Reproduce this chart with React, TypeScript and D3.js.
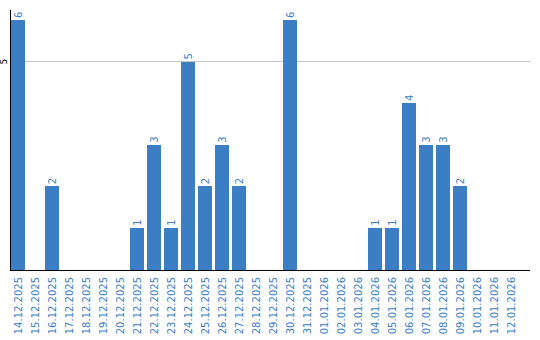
import React from "react";
import * as d3 from "d3";

const categories = [
  "14.12.2025","15.12.2025","16.12.2025","17.12.2025","18.12.2025","19.12.2025","20.12.2025",
  "21.12.2025","22.12.2025","23.12.2025","24.12.2025","25.12.2025","26.12.2025","27.12.2025",
  "28.12.2025","29.12.2025","30.12.2025","31.12.2025","01.01.2026","02.01.2026","03.01.2026",
  "04.01.2026","05.01.2026","06.01.2026","07.01.2026","08.01.2026","09.01.2026","10.01.2026",
  "11.01.2026","12.01.2026",
];
const values = [6,0,2,0,0,0,0,1,3,1,5,2,3,2,0,0,6,0,0,0,0,1,1,4,3,3,2,0,0,0];
const yTicks = [5];

export default function App() {
  const W = 540, H = 340;
  const left = 10, right = 530, top = 10, bottom = 270;
  const plotRight = left + 1 + categories.length * 17;
  const x = d3.scaleBand<string>().domain(categories).range([left + 1, plotRight]).padding(0);
  const y = d3.scaleLinear().domain([0, 6]).range([269.3, 20]);
  const blue = "#3b7ec4";
  const font = "DejaVu Sans, Verdana, sans-serif";
  return (
    <svg width={W} height={H} style={{ position: "absolute", left: 0, top: 0 }}>
      {yTicks.map((t) => (
        <g key={t}>
          <line x1={left} x2={right} y1={Math.floor(y(t)) + 0.5} y2={Math.floor(y(t)) + 0.5} stroke="#c8c8c8" />
          <text transform={`translate(7,${y(t)}) rotate(-90)`} textAnchor="middle" fontSize={9} fontFamily={font} fill="#000">{t}</text>
        </g>
      ))}
      {categories.map((c, i) => {
        const v = values[i];
        const bx = x(c)!;
        const bw = 14;
        const cx = bx + bw / 2;
        return (
          <g key={c}>
            {v > 0 && (
              <>
                <rect x={bx} y={Math.round(y(v))} width={bw} height={bottom + 1 - Math.round(y(v))} fill={blue} />
                <text transform={`translate(${cx + 3.5},${y(v) - 2}) rotate(-90)`} textAnchor="start" fontSize={10} fontFamily={font} fill={blue}>{v}</text>
              </>
            )}
            <text transform={`translate(${cx + 3.5},${bottom + 7}) rotate(-90)`} textAnchor="end" fontSize={10} fontFamily={font} fill={blue}>{c}</text>
          </g>
        );
      })}
      <line x1={left + 0.5} x2={left + 0.5} y1={top} y2={bottom + 1} stroke="#000" />
      <line x1={left} x2={right} y1={bottom + 0.5} y2={bottom + 0.5} stroke="#000" />
    </svg>
  );
}
